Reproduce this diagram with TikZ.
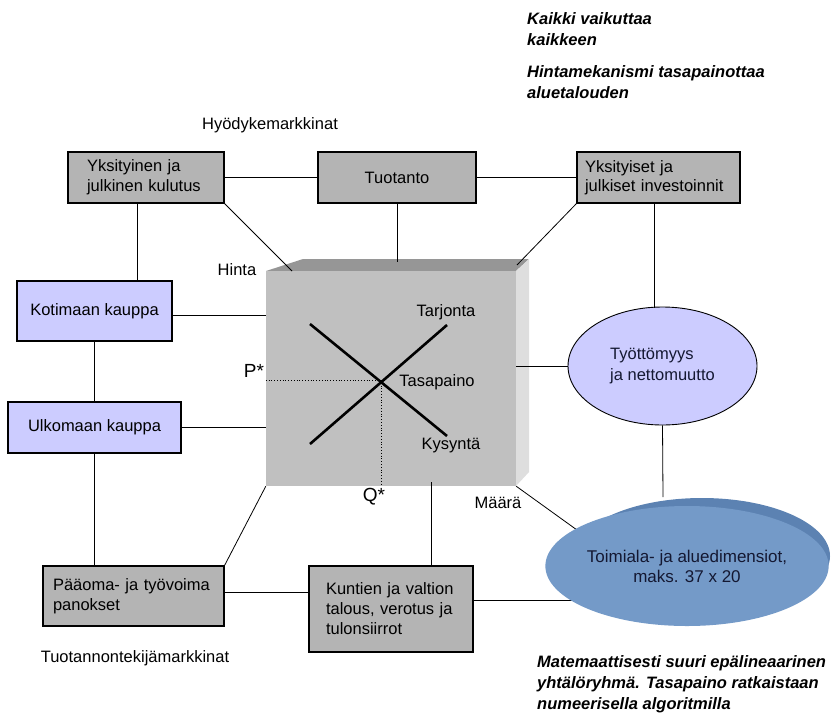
\documentclass[tikz,border=0pt]{standalone}
\usepackage{fontspec}
\setmainfont{Liberation Sans}
\usetikzlibrary{shapes.geometric}
\definecolor{boxgray}{RGB}{180,180,180}
\definecolor{lav}{RGB}{204,204,255}
\definecolor{cubefront}{RGB}{192,192,192}
\definecolor{cubetop}{RGB}{150,150,150}
\definecolor{cubeside}{RGB}{222,222,222}
\definecolor{blueA}{RGB}{116,154,200}
\definecolor{blueB}{RGB}{92,130,178}
\definecolor{txtblue}{RGB}{20,24,50}
\tikzset{
  box/.style={draw=black, line width=1.1pt, fill=boxgray, font=\fontsize{16.5}{20}\selectfont, inner ysep=0pt, minimum height=#1},
  box/.default=51pt,
  lbox/.style={box=#1, fill=lav},
  lbox/.default=51pt,
  lbl/.style={font=\fontsize{16.5}{20}\selectfont, inner sep=0pt},
  big/.style={font=\fontsize{19}{22}\selectfont, inner sep=0pt},
  note/.style={font=\fontsize{16.5}{21}\bfseries\itshape\selectfont, align=left, anchor=west, inner sep=0pt},
  conn/.style={draw=black, line width=0.8pt},
  curve/.style={draw=black, line width=2.6pt},
  dot/.style={draw=black, line width=0.8pt, dotted},
}
\begin{document}
\begin{tikzpicture}[x=1pt,y=-1pt]
\useasboundingbox (0,0) rectangle (837,715);

% notes
\node[note] (n1) at (527,29) {Kaikki vaikuttaa\\kaikkeen};
\node[note] (n2) at (527,82) {Hintamekanismi tasapainottaa\\aluetalouden};
\node[note] (n3) at (537,684) {Matemaattisesti suuri epälineaarinen\\yhtälöryhmä. Tasapaino ratkaistaan\\numeerisella algoritmilla};

\node[lbl] (hyod) at (270,125) {Hyödykemarkkinat};
\node[lbl] (tuot) at (135,658) {Tuotannontekijämarkkinat};

% boxes
\node[box, minimum width=156pt, text width=118pt, inner xsep=19pt, align=left] (yk) at (146,177.5) {Yksityinen ja\\julkinen kulutus};
\node[box, minimum width=158pt] (tu) at (397,177.5) {Tuotanto};
\node[box, minimum width=163pt, text width=147pt, inner xsep=8pt, align=left] (ys) at (658.5,177.5) {Yksityiset ja\\[-1pt]julkiset investoinnit\\[3pt]};
\node[lbox=60pt, minimum width=155pt] (ko) at (94.5,311) {Kotimaan kauppa};
\node[lbox=51pt, minimum width=173pt] (ul) at (94.5,427.5) {Ulkomaan kauppa};
\node[box=60pt, minimum width=181pt, text width=161pt, inner xsep=10pt, align=left] (pa) at (133.5,596) {Pääoma- ja työvoima\\panokset};
\node[box=86pt, minimum width=164pt, text width=130pt, inner xsep=17pt, align=left] (ku) at (391,609) {Kuntien ja valtion\\talous, verotus ja\\tulonsiirrot};

% cube
\fill[cubetop] (266,271) -- (303,259) -- (529,259) -- (516,271) -- cycle;
\fill[cubeside] (516,271) -- (529,259) -- (529,472) -- (516,486) -- cycle;
\node[fill=cubefront, minimum width=250pt, minimum height=215pt, inner sep=0pt] (cube) at (391,378.5) {};
\coordinate (ctl) at (292,271);
\coordinate (ctop) at (397,262);
\coordinate (ctr) at (517,265);
\coordinate (cbot) at (431,482);
\coordinate (eq) at (381,380);

\draw[dot] (cube.west |- eq) -- (eq);
\draw[dot] (eq) -- (eq |- cube.south);
\draw[curve] (310,444) -- (447,325);
\draw[curve] (310,324) -- (447,436);

\node[lbl] (tarj) at (446,312) {Tarjonta};
\node[lbl] (tasa) at (437,382) {Tasapaino};
\node[lbl] (kys) at (451,446) {Kysyntä};
\node[lbl] (hinta) at (237,270) {Hinta};
\node[lbl] (maara) at (498,503) {Määrä};
\node[big] (pstar) at (254,371) {P*};
\node[big] (qstar) at (374,497) {Q*};

% connectors
\coordinate (tmT) at (663,497);
\coordinate (tmL) at (584,600);
\coordinate (tmNW) at (577,530);
\draw[conn] (yk.east) -- (tu.west);
\draw[conn] (tu.east) -- (ys.west);
\draw[conn] ([xshift=70pt]yk.south west) -- ([xshift=70pt]yk.south west |- ko.north);
\draw[conn] (yk.south east) -- (ctl);
\draw[conn] (tu.south) -- (ctop);
\draw[conn] (ys.south west) -- (ctr);
\draw[conn] ([yshift=-4pt]ko.east) -- ([yshift=-4pt]ko.east -| cube.west);
\draw[conn] (ko.south) -- (ul.north);
\draw[conn] (ul.east) -- (ul.east -| cube.west);
\draw[conn] (ul.south) -- (ul.south |- pa.north);
\draw[conn] (cube.south west) -- (pa.north east);
\draw[conn] ([yshift=4pt]pa.east) -- ([yshift=4pt]pa.east -| ku.west);
\draw[conn] (cbot |- ku.north) -- (cbot);
\draw[conn] ([yshift=9pt]ku.east) -- (tmL);
\draw[conn] (cube.south east) -- (tmNW);

% ellipses
\node[ellipse, draw=black, line width=0.9pt, fill=lav, minimum width=189pt, minimum height=118pt, inner sep=0pt, align=left, font=\fontsize{16.5}{21}\selectfont, text=txtblue] (ty) at (662.5,366) {Työttömyys\\ja nettomuutto};
\draw[conn] ([xshift=-4.5pt]ys.south) -- ([xshift=-4.5pt,yshift=-1pt]ys.south |- ty.north);
\draw[conn] (cube.east |- ty.west) -- (ty.west);
\draw[conn] (ty.south) -- (tmT);
\fill[blueB] (702,556) ellipse [x radius=128pt, y radius=58pt];
\node[ellipse, fill=blueA, minimum width=252pt, minimum height=120pt, inner sep=0pt, align=center, font=\fontsize{17}{20}\selectfont, text=txtblue] (tm) at (687,566) {Toimiala- ja aluedimensiot,\\maks. 37 x 20};
\end{tikzpicture}
\end{document}
